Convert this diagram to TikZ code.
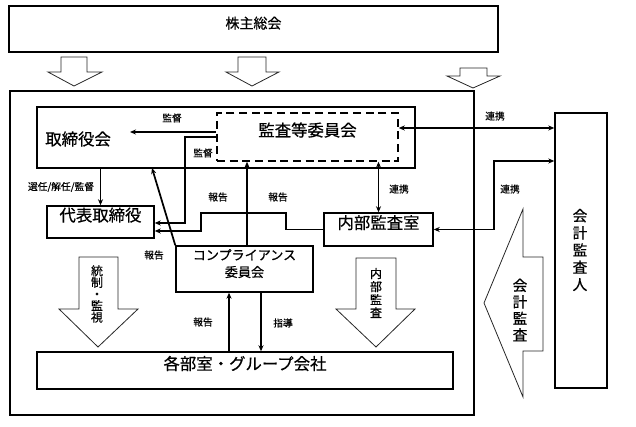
\documentclass[tikz,border=0pt]{standalone}
\usepackage{fontspec}
\setmainfont{Noto Sans CJK JP}[FakeBold=0.5]
\usetikzlibrary{arrows.meta,fit}
\begin{document}
\begin{tikzpicture}[x=0.75pt,y=-0.75pt,
  box/.style={draw, line width=1.1pt, inner sep=0pt},
  big/.style={font=\fontsize{12.3}{14}\selectfont},
  lbl/.style={font=\fontsize{7.3}{8}\selectfont, inner sep=0pt},
  conn/.style={line width=1.3pt, -{Stealth[length=4.5pt,width=3.8pt]}},
  dconn/.style={line width=1.3pt, {Stealth[length=4.5pt,width=3.8pt]}-{Stealth[length=4.5pt,width=3.8pt]}},
  hollow/.style={draw=black!85, line width=0.6pt, line join=miter},
  vtext/.style={align=center, inner sep=0pt}]
\useasboundingbox (0,0) rectangle (636,427);

% boxes
\node[box, fit={(9,6)(498,52)}, font=\fontsize{10.5}{12}\selectfont] (soukai) {株主総会};
\node[box, line width=1.6pt, fit={(10,91)(474,415)}] (outer) {};
\node[box, fit={(37,107)(415,168)}] (tori) {};
\node[big, anchor=west, inner sep=0pt] (toritxt) at (45,139) {取締役会};
\node[box, dashed, dash pattern=on 6pt off 3.5pt, line width=1.2pt, fit={(217,113)(398,161)}, big] (kansa) {監査等委員会};
\node[box, fit={(47,206)(154,238)}, big] (daihyo) {代表取締役};
\node[box, fit={(324,213)(433,246)}, big] (naibu) {内部監査室};
\node[box, fit={(176,246)(313,292)}, align=center, font=\fontsize{9.8}{12.8}\selectfont] (comp) {コンプライアンス\\委員会};
\node[box, fit={(37,352)(453,389)}, big] (kakubu) {各部室・グループ会社};
\node[box, fit={(555,113)(607,388)}] (kaikei) {};
\node[vtext, font=\fontsize{11}{12.9}\selectfont] (kaikeitxt) at (580,250) {会\\計\\監\\査\\人};

% hollow arrows
\draw[hollow] (61,57) -- (87,57) -- (87,72) -- (102,72) -- (74,86) -- (48,72) -- (61,72) -- cycle;
\draw[hollow] (238,57) -- (266,57) -- (266,72) -- (279,72) -- (252,86) -- (226,72) -- (238,72) -- cycle;
\draw[hollow] (460,68) -- (487,68) -- (487,76) -- (500,76) -- (473,88) -- (447,76) -- (460,76) -- cycle;
\draw[hollow] (79,257) -- (118,257) -- (118,309) -- (138,309) -- (98,347) -- (59,309) -- (79,309) -- cycle;
\node[vtext, font=\fontsize{9}{8.7}\selectfont] (tousei) at (97,294) {統\\制\\・\\監\\視};
\draw[hollow] (356,258) -- (396,258) -- (396,309) -- (415,309) -- (376,347) -- (336,309) -- (356,309) -- cycle;
\node[vtext, font=\fontsize{9}{9.8}\selectfont] (naibukansa) at (376,293) {内\\部\\監\\査};
\draw[hollow] (543,257) -- (543,351) -- (523,351) -- (523,397) -- (484,303) -- (523,209) -- (523,257) -- cycle;
\node[vtext, font=\fontsize{11}{12.4}\selectfont] (kaikeikansa) at (520,310) {会\\計\\監\\査};

% connectors
\coordinate (k1) at (130,132);
\draw[conn] (k1 -| kansa.west) -- (k1);
\node[lbl] (l1) at (172,118) {監督};
\draw[conn] (kansa.west) -- (185,137) -- (185,223) -- (daihyo.east |- 0,223);
\node[lbl] (l2) at (203,153) {監督};
\draw[conn] (daihyo.north |- tori.south) -- (daihyo.north);
\node[lbl] (l3) at (61,187) {選任/解任/監督};
\draw[conn] (comp.north west) -- (152,168);
\node[lbl] (l4) at (154,255) {報告};
\draw[conn] (comp.north -| 247,0) -- (kansa.south -| 247,0);
\draw[conn] (naibu.west) -- (286,229.5) -- (286,213) -- (201,213) -- (201,231) -- (daihyo.east |- 0,231);
\node[lbl] (l5) at (218,197) {報告};
\node[lbl] (l6) at (278,197) {報告};
\draw[dconn] (naibu.north |- kansa.south) -- (naibu.north);
\node[lbl] (l7) at (399,189) {連携};
\draw[dconn] (kansa.east |- 0,128) -- (kaikei.west |- 0,128);
\node[lbl] (l8) at (495,116) {連携};
\draw[dconn] (naibu.east) -- (494,229.5) -- (494,161) -- (kaikei.west |- 0,161);
\node[lbl] (l9) at (510,189) {連携};
\draw[conn] (kakubu.north -| 229,0) -- (comp.south -| 229,0);
\node[lbl] (l10) at (203,322) {報告};
\draw[conn] (comp.south -| 261,0) -- (kakubu.north -| 261,0);
\node[lbl] (l11) at (283,323) {指導};
\end{tikzpicture}
\end{document}
